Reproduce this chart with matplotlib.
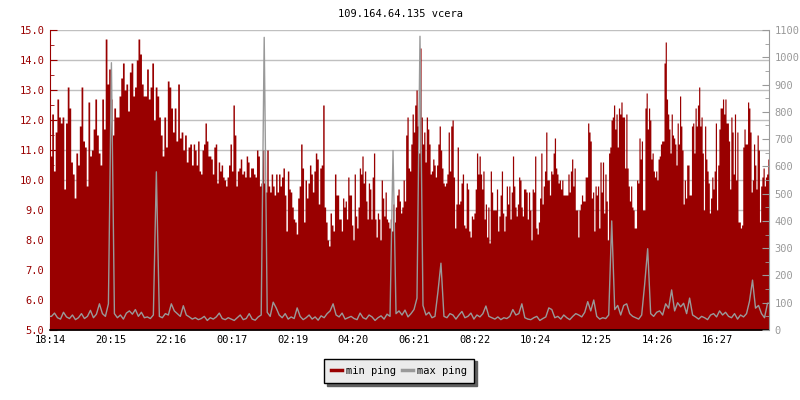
import matplotlib
matplotlib.use("Agg")
import matplotlib.pyplot as plt
import numpy as np
from matplotlib.ticker import MultipleLocator, FixedLocator, FixedFormatter
from matplotlib.lines import Line2D

title = "109.164.64.135 vcera"
start_time = "18:14"
tick_labels = ["18:14", "20:15", "22:16", "00:17", "02:19", "04:20",
               "06:21", "08:22", "10:24", "12:25", "14:26", "16:27"]
end_time = "18:10"

# min ping (ms, left axis) read in five consecutive time windows
window_edges = ["18:14", "23:00", "03:48", "08:36", "13:24", "18:10"]

min_ping_1 = [10.8, 12.2, 10.3, 11.6, 12.7, 12.1, 11.9, 12.1, 9.7, 11.9, 13.1, 12.4, 10.6,
              10.2, 9.4, 10.9, 10.5, 11.8, 13.1, 11.3, 11.1, 9.8, 12.6, 10.8, 11.0, 11.7,
              12.7, 11.5, 10.9, 10.5, 12.7, 11.7, 14.7, 13.2, 13.7, 12.7, 11.5, 12.4, 12.1,
              12.1, 12.8, 13.4, 13.9, 13.0, 13.2, 12.3, 13.6, 13.9, 12.8, 13.1, 14.0, 14.7,
              14.2, 13.2, 12.8, 12.8, 13.7, 12.7, 13.1, 13.9, 12.0, 13.1, 12.8, 12.1, 11.5,
              10.8, 12.1, 11.1, 13.3, 13.1, 12.4, 11.6, 12.4, 11.3, 13.2, 11.4, 11.6, 11.0,
              11.5, 10.6, 11.1, 11.2, 10.5]

min_ping_2 = [11.2, 11.0, 10.5, 11.3, 10.3, 10.2, 11.0, 11.2, 11.9, 11.3, 10.8, 10.8, 10.7,
              10.2, 11.1, 11.2, 9.9, 10.6, 10.3, 10.5, 10.1, 10.0, 9.8, 10.1, 10.5, 11.2,
              10.3, 12.5, 11.5, 9.8, 10.3, 10.4, 10.7, 10.2, 10.3, 10.1, 10.8, 10.6, 10.1,
              10.4, 10.4, 10.2, 10.1, 11.0, 10.8, 9.8, 9.9, 11.0, 9.9, 9.6, 11.0, 9.8, 9.6,
              10.2, 9.8, 9.5, 10.2, 9.6, 10.2, 9.8, 10.1, 10.4, 9.5, 8.3, 10.3, 9.7, 9.6,
              9.1, 8.7, 8.6, 8.2, 9.4, 9.8, 11.2, 10.4, 8.6, 10.0, 9.4, 9.9, 10.5, 10.2, 9.6,
              10.3, 10.9, 10.7, 9.2, 10.4, 10.5, 12.5, 9.1, 8.6, 8.0, 7.8, 8.9, 8.5, 8.3,
              10.2, 9.5]

min_ping_3 = [9.5, 8.7, 8.7, 8.3, 9.4, 9.1, 9.3, 8.7, 10.1, 9.5, 9.5, 8.5, 8.0, 10.2, 8.8,
              8.4, 9.1, 10.4, 10.2, 10.8, 9.9, 10.3, 9.3, 8.7, 9.9, 9.7, 8.7, 10.1, 10.9,
              8.7, 8.1, 8.9, 8.7, 8.0, 10.0, 9.4, 8.8, 9.6, 8.7, 8.6, 8.4, 8.7, 8.3, 9.2,
              8.6, 9.1, 9.5, 9.7, 9.3, 8.9, 9.1, 10.0, 9.3, 11.5, 12.1, 10.4, 10.3, 11.2,
              12.2, 11.6, 12.5, 13.0, 11.8, 10.9, 14.4, 12.1, 11.2, 11.6, 10.6, 12.1, 11.7,
              11.2, 10.2, 10.3, 10.7, 10.5, 10.1, 10.5, 11.2, 11.8, 11.0, 10.4, 9.9, 9.8,
              9.9, 10.2, 11.6, 10.3, 11.8, 12.0, 10.1, 8.4, 9.2, 11.1, 9.2, 9.3, 9.9, 10.2,
              8.5, 8.4, 9.9, 9.7, 8.3, 8.1, 8.8, 8.7, 8.9, 9.7, 10.9, 10.2, 10.8, 10.2]

min_ping_4 = [9.7, 10.3, 8.7, 9.2, 8.1, 9.1, 7.9, 10.3, 9.6, 9.0, 9.0, 9.0, 9.7, 8.3, 8.8,
              9.5, 10.3, 8.9, 8.3, 8.8, 9.8, 9.2, 9.8, 8.7, 9.6, 10.8, 9.8, 9.1, 8.8, 9.2,
              10.1, 10.0, 9.1, 8.8, 9.7, 9.7, 9.6, 8.7, 9.6, 9.0, 8.0, 9.7, 9.6, 10.8, 8.4,
              8.2, 8.6, 9.4, 10.9, 9.2, 9.8, 10.3, 11.6, 10.0, 10.0, 9.5, 10.3, 10.2, 10.9,
              11.4, 10.4, 10.2, 9.9, 10.0, 9.7, 10.0, 9.5, 9.5, 9.5, 9.5, 10.2, 9.6, 10.3,
              10.7, 9.8, 10.4, 9.0, 9.0, 8.1, 9.0, 9.2, 9.5, 9.3, 9.3, 10.1, 10.1, 11.9,
              11.6, 11.3, 9.4, 9.6, 8.3, 9.8, 9.5, 9.8, 8.4, 10.6, 9.6, 10.6, 8.9, 10.2,
              9.3, 8.0, 10.9, 11.1, 12.0, 12.1, 12.5, 11.7, 12.2, 11.1, 12.4, 12.2, 12.6,
              12.1, 12.1, 10.4]

min_ping_5 = [12.2, 10.4, 9.8, 9.3, 9.8, 9.1, 9.0, 8.4, 8.4, 10.0, 9.9, 11.4, 10.7, 11.3,
              9.0, 9.0, 12.4, 12.9, 11.7, 12.4, 12.0, 10.7, 10.9, 10.3, 10.1, 10.3, 10.0,
              10.7, 10.8, 11.2, 11.3, 11.3, 13.9, 14.6, 12.7, 12.2, 11.7, 10.9, 12.2, 11.5,
              11.4, 11.2, 10.5, 11.9, 11.2, 12.8, 11.8, 11.0, 9.2, 10.0, 9.4, 10.5, 10.5,
              9.5, 9.5, 11.8, 11.9, 10.9, 12.4, 11.8, 12.5, 13.1, 11.8, 12.1, 10.9, 9.0,
              11.8, 10.7, 10.3, 9.9, 8.9, 9.4, 10.1, 9.7, 10.3, 11.9, 9.0, 10.5, 11.7, 12.4,
              12.4, 12.7, 12.2, 12.7, 11.9, 11.9, 11.3, 9.7, 12.1, 11.6, 10.2, 12.2, 10.0,
              11.6, 8.6, 8.6, 8.4, 8.5, 11.1, 11.7, 11.2, 11.2, 12.6, 12.4, 11.6, 9.6, 10.0,
              11.2, 10.5, 9.7, 11.5, 11.0, 8.6, 9.8, 10.1, 10.4, 9.8, 10.1, 10.2, 10.7]

# max ping (ms, right axis), consecutive readings over the whole day
max_ping = [50, 62, 45, 40, 65, 48, 42, 55, 38, 45, 60, 42, 50, 72, 45, 58, 96, 60, 50, 96,
            980, 60, 45, 55, 40, 62, 70, 58, 75, 50, 65, 45, 48, 42, 55, 580, 50, 45, 60, 55,
            96, 70, 60, 50, 89, 55, 48, 40, 45, 38, 42, 50, 35, 45, 40, 48, 62, 42, 38, 45,
            40, 35, 45, 55, 38, 42, 60, 40, 36, 48, 55, 1073, 65, 50, 102, 81, 55, 45, 60, 40,
            48, 42, 81, 50, 38, 45, 55, 40, 48, 36, 52, 45, 60, 70, 96, 55, 48, 62, 40, 45,
            50, 42, 38, 62, 45, 40, 55, 48, 35, 45, 52, 40, 58, 50, 658, 60, 70, 55, 73, 48,
            60, 75, 117, 1077, 90, 55, 65, 45, 50, 141, 245, 50, 45, 60, 55, 40, 55, 68, 45, 50,
            62, 40, 55, 48, 60, 88, 50, 45, 40, 48, 38, 45, 42, 50, 75, 55, 60, 96, 45, 40,
            38, 45, 50, 35, 42, 48, 81, 75, 45, 50, 40, 55, 45, 38, 50, 60, 55, 48, 65, 104,
            70, 110, 50, 40, 45, 42, 55, 400, 75, 90, 55, 90, 96, 60, 50, 45, 40, 55, 168, 298,
            60, 50, 65, 70, 55, 96, 80, 147, 70, 100, 85, 98, 60, 117, 55, 48, 40, 50, 45, 38,
            55, 60, 48, 70, 55, 65, 50, 45, 60, 40, 55, 48, 60, 106, 183, 80, 90, 60, 45, 98]


def to_min(s):
    h, m = map(int, s.split(":"))
    h0, m0 = map(int, start_time.split(":"))
    return (h * 60 + m - (h0 * 60 + m0)) % 1440


def step_xy(t0, t1, vals):
    vals = np.asarray(vals, float)
    edges = np.linspace(t0, t1, len(vals) + 1)
    xs = np.repeat(edges, 2)[1:-1]
    ys = np.repeat(vals, 2)
    return xs, ys


RED = "#990000"
GRAY = "#999999"
FONT = "DejaVu Sans Mono"
FS = 7.5
plt.rcParams["font.family"] = FONT

fig = plt.figure(figsize=(8, 4), dpi=100)
ax = fig.add_axes([50 / 800, 1 - 330 / 400, 719 / 800, 300 / 400])
ax2 = ax.twinx()

segments = [min_ping_1, min_ping_2, min_ping_3, min_ping_4, min_ping_5]
edges_min = [to_min(s) for s in window_edges]
edges_min[-1] = to_min(end_time)
xs_all, ys_all = [], []
for k, seg in enumerate(segments):
    xs, ys = step_xy(edges_min[k], edges_min[k + 1], seg)
    xs_all.append(xs)
    ys_all.append(ys)
xs_all = np.concatenate(xs_all)
ys_all = np.concatenate(ys_all)
ax.fill_between(xs_all, 5, ys_all, color=RED, lw=0, zorder=2)

x_end = edges_min[-1]
n = len(max_ping)
t_max = (np.arange(n) + 0.5) * x_end / n
ax2.plot(np.r_[0, t_max, x_end], np.r_[max_ping[0], max_ping, max_ping[-1]],
         color=GRAY, lw=1, zorder=3)

ax.set_xlim(0, x_end)
ax.set_ylim(5, 15)
ax2.set_ylim(0, 1100)

ax.set_axisbelow(True)
ax.yaxis.set_major_locator(MultipleLocator(1.0))
ax.yaxis.set_minor_locator(MultipleLocator(0.5))
ax.grid(axis="y", which="major", color="#c0c0c0", lw=1, zorder=0)
ax.yaxis.set_major_formatter(matplotlib.ticker.FormatStrFormatter("%.1f"))

ax2.yaxis.set_major_locator(MultipleLocator(100))
ax2.yaxis.set_minor_locator(MultipleLocator(50))

tick_pos = [to_min(s) for s in tick_labels]
ax.xaxis.set_major_locator(FixedLocator(tick_pos))
ax.xaxis.set_major_formatter(FixedFormatter(tick_labels))

for a in (ax, ax2):
    a.spines["top"].set_visible(False)
ax.spines["left"].set_color(RED)
ax.spines["right"].set_visible(False)
ax2.spines["left"].set_visible(False)
ax2.spines["bottom"].set_visible(False)
ax2.spines["right"].set_color(GRAY)
ax.spines["bottom"].set_color("black")
ax.spines["bottom"].set_linewidth(1.2)

ax.tick_params(axis="y", which="major", direction="in", length=5, color=RED,
               labelcolor=RED, labelsize=FS, pad=4)
ax.tick_params(axis="y", which="minor", direction="in", length=3, color=RED)
ax.tick_params(axis="x", which="major", direction="in", length=5, color="black",
               labelcolor="black", labelsize=FS, pad=3.5)
ax2.tick_params(axis="y", which="major", direction="in", length=5, color=GRAY,
                labelcolor=GRAY, labelsize=FS, pad=4)
ax2.tick_params(axis="y", which="minor", direction="in", length=3, color=GRAY)

fig.text(0.5, 1 - 14 / 400, title, ha="center", va="center", fontsize=FS, color="black")

handles = [Line2D([], [], color=RED, lw=2.5), Line2D([], [], color=GRAY, lw=2.5)]
leg = fig.legend(handles, ["min ping", "max ping"], loc="center",
                 bbox_to_anchor=(399 / 800, 1 - 371 / 400), ncol=2, fontsize=FS,
                 frameon=True, fancybox=False, edgecolor="black", facecolor="#ebebeb",
                 framealpha=1, handlelength=1.0, handletextpad=0.4, columnspacing=0.6,
                 borderpad=0.7, shadow={"color": "#606060", "alpha": 1})
leg.get_frame().set_linewidth(1)

fig.savefig("out.png", dpi=100)
